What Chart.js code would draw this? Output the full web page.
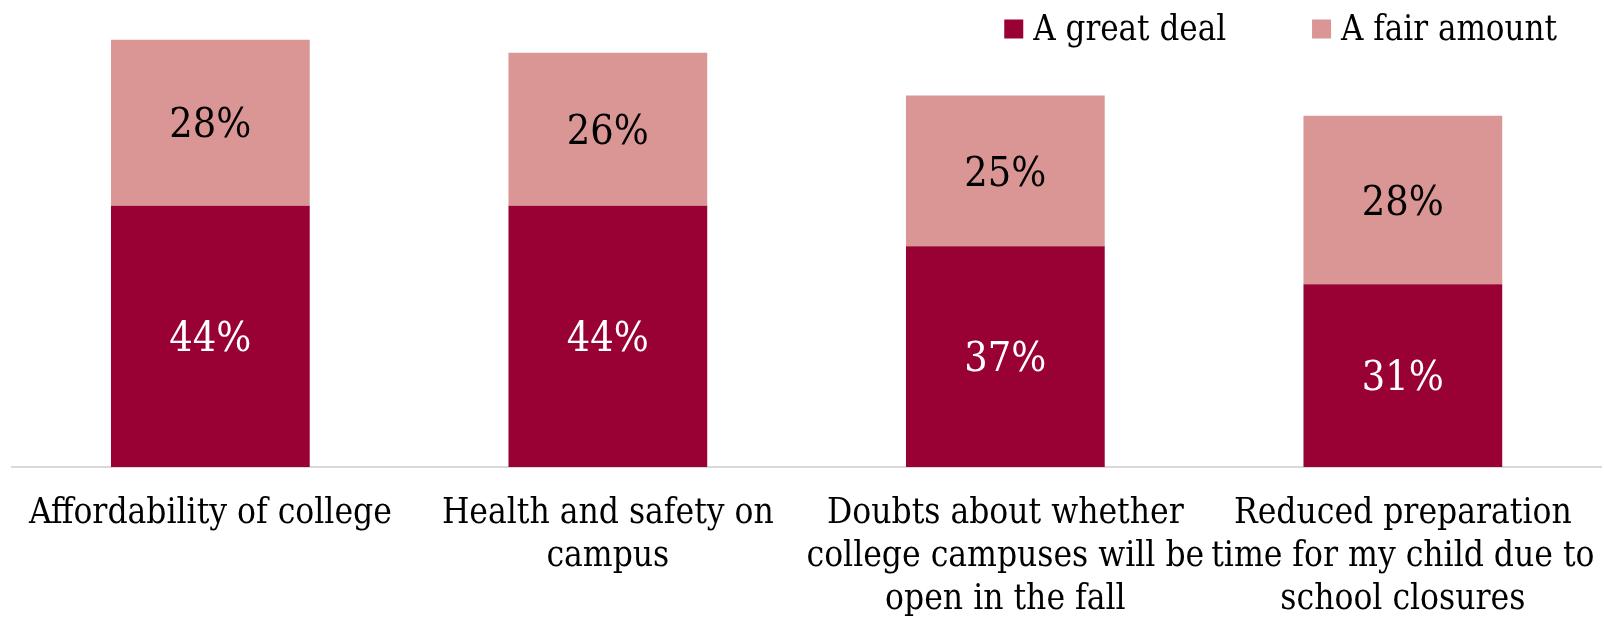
<!DOCTYPE html>
<html>
<head>
<meta charset="utf-8">
<script src="https://cdn.jsdelivr.net/npm/chart.js@4"></script>
<style>
  html, body { margin: 0; padding: 0; background: #fff; }
  #wrap { width: 1604px; height: 618px; position: relative; }
</style>
</head>
<body>
<div id="wrap"><canvas id="barChart"></canvas></div>
<script>
const categories = [
    'Affordability of college',
    ['Health and safety on', 'campus'],
    ['Doubts about whether', 'college campuses will be', 'open in the fall'],
    ['Reduced preparation', 'time for my child due to', 'school closures']
];
const greatDeal = [44, 44, 37.2, 30.8];
const fairAmount = [28, 25.8, 25.4, 28.4];
const seriesNames = ['A great deal', 'A fair amount'];

const FONT = "'DejaVu Serif Condensed', 'Liberation Serif', serif";

// percentage in the middle of each segment
const segmentLabels = {
    id: 'segmentLabels',
    afterDatasetsDraw(chart) {
        const ctx = chart.ctx;
        ctx.save();
        ctx.font = '41px ' + FONT;
        ctx.textAlign = 'center';
        ctx.textBaseline = 'middle';
        chart.data.datasets.forEach((ds, i) => {
            const meta = chart.getDatasetMeta(i);
            meta.data.forEach((bar, j) => {
                const mid = (bar.y + bar.base) / 2 + 4;
                ctx.fillStyle = i === 0 ? '#ffffff' : '#000000';
                ctx.fillText(Math.round(ds.data[j]) + '%', bar.x, mid);
            });
        });
        ctx.restore();
    }
};

// legend in the top right corner, drawn over the plot
const topLegend = {
    id: 'topLegend',
    afterDraw(chart) {
        const ctx = chart.ctx;
        const box = 19, gap = 10, itemGap = 86;
        const right = 1557, midY = 29;
        ctx.save();
        ctx.font = '34.5px ' + FONT;
        ctx.textBaseline = 'middle';
        const items = chart.data.datasets.map(ds => ({
            text: ds.label, color: ds.backgroundColor, w: ctx.measureText(ds.label).width
        }));
        let total = items.reduce((s, it) => s + box + gap + it.w, 0) + itemGap * (items.length - 1);
        let x = right - total;
        items.forEach(it => {
            ctx.fillStyle = it.color;
            ctx.fillRect(x, midY - box / 2, box, box);
            ctx.fillStyle = '#000';
            ctx.fillText(it.text, x + box + gap, midY + 2);
            x += box + gap + it.w + itemGap;
        });
        ctx.restore();
    }
};

const ctx = document.getElementById('barChart').getContext('2d');
const chart = new Chart(ctx, {
    type: 'bar',
    data: {
        labels: categories,
        datasets: [{
            label: seriesNames[0],
            data: greatDeal,
            backgroundColor: '#990033',
            categoryPercentage: 1,
            barPercentage: 0.5
        }, {
            label: seriesNames[1],
            data: fairAmount,
            backgroundColor: '#d99694',
            categoryPercentage: 1,
            barPercentage: 0.5
        }]
    },
    options: {
        responsive: true,
        maintainAspectRatio: false,
        animation: false,
        layout: { padding: { left: 11.6, right: 2.4, top: 0, bottom: -21 } },
        plugins: {
            legend: { display: false },
            tooltip: { enabled: false }
        },
        scales: {
            x: {
                stacked: true,
                grid: { display: false },
                border: { display: true, color: '#d9d9d9', width: 2 },
                ticks: {
                    color: '#000',
                    maxRotation: 0,
                    autoSkip: false,
                    padding: 18,
                    font: { family: FONT, size: 35, lineHeight: 1.22 }
                },
                // long last label should not squeeze the plot
                afterFit(scale) {
                    scale.paddingLeft = 0;
                    scale.paddingRight = 0;
                }
            },
            y: {
                stacked: true,
                display: false,
                min: 0,
                max: 78.7
            }
        }
    },
    plugins: [segmentLabels, topLegend]
});
</script>
</body>
</html>
